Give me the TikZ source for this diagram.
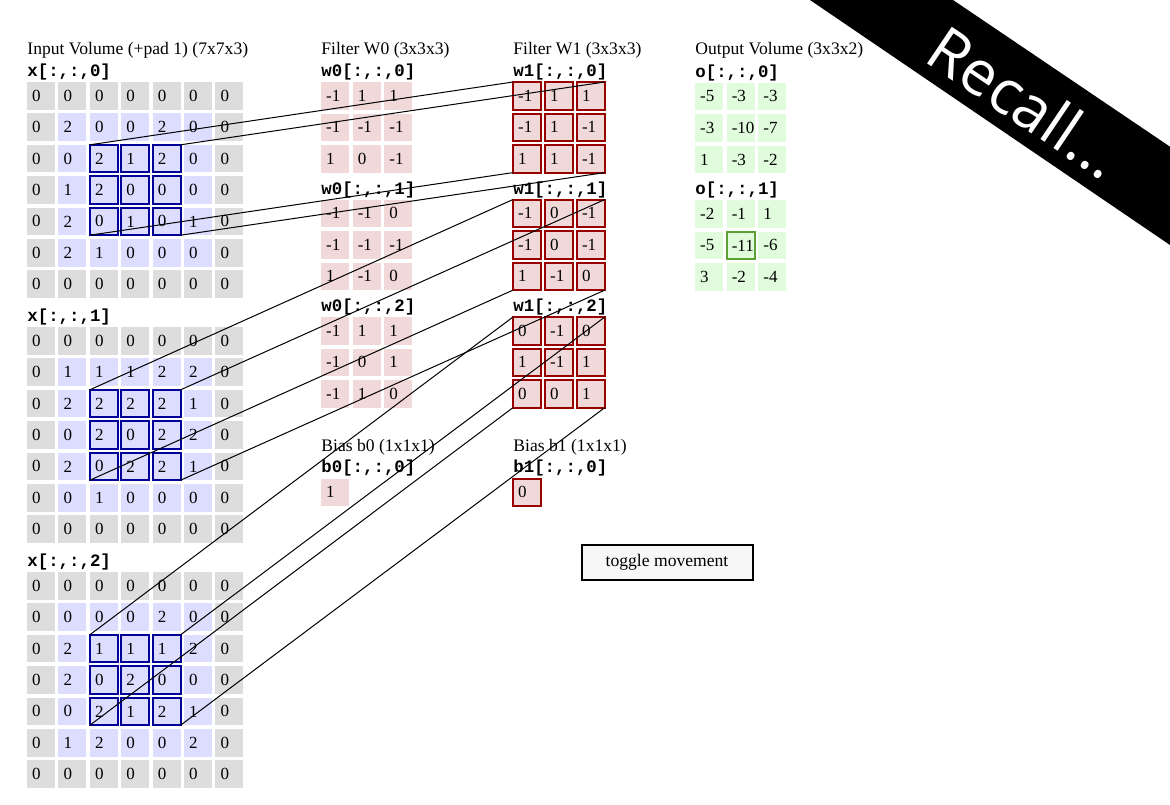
\documentclass[tikz,border=0pt]{standalone}
\usepackage{fontspec}
\setmainfont{Liberation Serif}
\setmonofont{Liberation Mono}
\newfontfamily\bannerfont{Open Sans}

\definecolor{padgray}{HTML}{DDDDDD}
\definecolor{inblue}{HTML}{DDDDFF}
\definecolor{wpink}{HTML}{F2D9D9}
\definecolor{ogreen}{HTML}{E0FCDC}
\definecolor{hlblue}{HTML}{000099}
\definecolor{wred}{HTML}{990000}
\definecolor{ogreenline}{HTML}{5AA032}

\begin{document}
\begin{tikzpicture}[x=0.5pt,y=-0.5pt]
  \tikzset{
    cell/.style = {anchor=north west, inner xsep=2.6pt, inner ysep=0pt,
      outer sep=0pt, text width=8.8pt, align=left, minimum height=13.8pt,
      line width=1pt, font=\fontsize{8.5}{9}\selectfont},
    title/.style = {anchor=base west, inner sep=0pt,
      font=\fontsize{8.8}{10}\selectfont},
    slice/.style = {anchor=base west, inner sep=0pt,
      font=\fontsize{8.7}{10}\ttfamily\bfseries},
    link/.style = {line width=0.5pt},
    button/.style = {draw, line width=1pt, fill=black!3,
      minimum width=85.5pt, minimum height=17.5pt, inner sep=0pt,
      font=\fontsize{8.8}{10}\selectfont},
    banner/.style = {text=white, rotate=-34, inner sep=0pt,
      font=\bannerfont\fontsize{31}{31}\selectfont}
  }
  \useasboundingbox (0,0) rectangle (1170,804);
  \fill[white] (0,0) rectangle (1170,804);

  % input volume
  \node[title] (intitle) at (27,54) {Input Volume (+pad 1) (7x7x3)};
  \foreach \s/\top/\vals in {
      0/82/{{0,0,0,0,0,0,0},{0,2,0,0,2,0,0},{0,0,2,1,2,0,0},{0,1,2,0,0,0,0},
            {0,2,0,1,0,1,0},{0,2,1,0,0,0,0},{0,0,0,0,0,0,0}},
      1/327/{{0,0,0,0,0,0,0},{0,1,1,1,2,2,0},{0,2,2,2,2,1,0},{0,0,2,0,2,2,0},
            {0,2,0,2,2,1,0},{0,0,1,0,0,0,0},{0,0,0,0,0,0,0}},
      2/572/{{0,0,0,0,0,0,0},{0,0,0,0,2,0,0},{0,2,1,1,1,2,0},{0,2,0,2,0,0,0},
            {0,0,2,1,2,1,0},{0,1,2,0,0,2,0},{0,0,0,0,0,0,0}}} {
    \node[slice] (xl\s) at (27,\top-5.5) {x[:,:,\s]};
    \foreach \row [count=\r from 0] in \vals
      \foreach \v [count=\c from 0] in \row {
        \pgfmathtruncatemacro\inside{and(and(\r>0,\r<6),and(\c>0,\c<6))}
        \pgfmathtruncatemacro\hl{and(and(\r>1,\r<5),and(\c>1,\c<5))}
        \ifnum\inside=1 \def\fc{inblue}\else\def\fc{padgray}\fi
        \ifnum\hl=1 \def\dc{hlblue}\else\def\dc{none}\fi
        \node[cell, fill=\fc, draw=\dc] (x-\s-\r-\c)
          at ({27+31.4*\c},{\top+31.4*\r}) {\mbox{\v}};
      }
  }

  % filter w0
  \node[title] (w0title) at (321,54) {Filter W0 (3x3x3)};
  \foreach \s/\top/\vals in {
      0/82/{{-1,1,1},{-1,-1,-1},{1,0,-1}},
      1/199.5/{{-1,-1,0},{-1,-1,-1},{1,-1,0}},
      2/317/{{-1,1,1},{-1,0,1},{-1,1,0}}} {
    \node[slice] (w0l\s) at (321,\top-5.5) {w0[:,:,\s]};
    \foreach \row [count=\r from 0] in \vals
      \foreach \v [count=\c from 0] in \row
        \node[cell, fill=wpink] (w0-\s-\r-\c)
          at ({321+31.6*\c},{\top+31.5*\r}) {\mbox{\v}};
  }
  \node[title] (b0title) at (321,451) {Bias b0 (1x1x1)};
  \node[slice] (b0l) at (321,472) {b0[:,:,0]};
  \node[cell, fill=wpink] (b0) at (321,478.5) {1};

  % filter w1
  \node[title] (w1title) at (513,54) {Filter W1 (3x3x3)};
  \foreach \s/\top/\vals in {
      0/82/{{-1,1,1},{-1,1,-1},{1,1,-1}},
      1/199.5/{{-1,0,-1},{-1,0,-1},{1,-1,0}},
      2/317/{{0,-1,0},{1,-1,1},{0,0,1}}} {
    \node[slice] (w1l\s) at (513,\top-5.5) {w1[:,:,\s]};
    \foreach \row [count=\r from 0] in \vals
      \foreach \v [count=\c from 0] in \row
        \node[cell, fill=wpink, draw=wred] (w1-\s-\r-\c)
          at ({513+31.9*\c},{\top+31.5*\r}) {\mbox{\v}};
  }
  \node[title] (b1title) at (513,451) {Bias b1 (1x1x1)};
  \node[slice] (b1l) at (513,472) {b1[:,:,0]};
  \node[cell, fill=wpink, draw=wred] (b1) at (513,478.5) {0};

  % output volume
  \node[title] (outtitle) at (695,54) {Output Volume (3x3x2)};
  \foreach \s/\top/\vals in {
      0/82.5/{{-5,-3,-3},{-3,-10,-7},{1,-3,-2}},
      1/200/{{-2,-1,1},{-5,-11,-6},{3,-2,-4}}} {
    \node[slice] (ol\s) at (695,\top-5.5) {o[:,:,\s]};
    \foreach \row [count=\r from 0] in \vals
      \foreach \v [count=\c from 0] in \row
        \node[cell, fill=ogreen] (o-\s-\r-\c)
          at ({695+31.6*\c},{\top+31.6*\r}) {\mbox{\v}};
  }
  \draw[ogreenline, line width=1pt] (o-1-1-1.north west) rectangle (o-1-1-1.south east);

  \node[button] (toggle) at (667,562.5) {toggle movement};

  % receptive field to w1
  \foreach \s in {0,1,2} {
    \draw[link] (x-\s-2-2.north west) -- (w1-\s-0-0.north west);
    \draw[link] (x-\s-2-4.north east) -- (w1-\s-0-2.north east);
    \draw[link] (x-\s-4-2.south west) -- (w1-\s-2-0.south west);
    \draw[link] (x-\s-4-4.south east) -- (w1-\s-2-2.south east);
  }

  % banner
  \fill[black] (810,0) -- (953,0) -- (1170,146.7) -- (1170,245) -- cycle;
  \node[banner] (recall) at (1026,102) {Recall...};
\end{tikzpicture}
\end{document}
